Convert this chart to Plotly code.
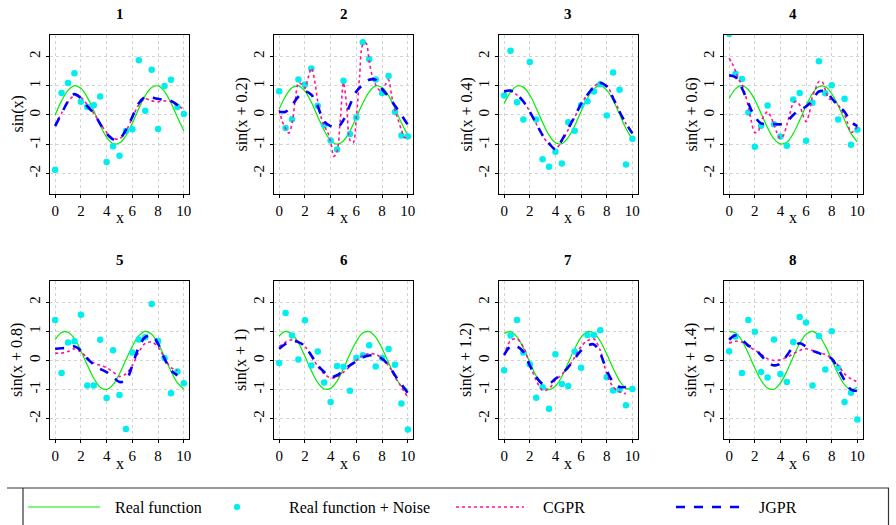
import plotly.graph_objects as go

# ---------------- data ----------------
X = [0, 0.5, 1, 1.5, 2, 2.5, 3, 3.5, 4, 4.5, 5, 5.5, 6, 6.5, 7, 7.5, 8, 8.5, 9, 9.5, 10]
X_FINE = [0, 0.25, 0.5, 0.75, 1, 1.25, 1.5, 1.75, 2, 2.25, 2.5, 2.75, 3, 3.25, 3.5, 3.75,
          4, 4.25, 4.5, 4.75, 5, 5.25, 5.5, 5.75, 6, 6.25, 6.5, 6.75, 7, 7.25, 7.5, 7.75,
          8, 8.25, 8.5, 8.75, 9, 9.25, 9.5, 9.75, 10]

PANEL_TITLES = ["1", "2", "3", "4", "5", "6", "7", "8"]
Y_LABELS = ["sin(x)", "sin(x + 0.2)", "sin(x + 0.4)", "sin(x + 0.6)",
            "sin(x + 0.8)", "sin(x + 1)", "sin(x + 1.2)", "sin(x + 1.4)"]
X_TICKS = [0, 2, 4, 6, 8, 10]
Y_TICKS = [-2, -1, 0, 1, 2]
Y_TICK_TEXT = ["-2", "-1", "0", "1", "2"]
LEGEND_LABELS = ["Real function", "Real function + Noise", "CGPR", "JGPR"]

REAL_1 = [0, 0.48, 0.84, 1.00, 0.91, 0.60, 0.14, -0.35, -0.76, -0.98, -0.96, -0.71, -0.28, 0.22, 0.66, 0.94, 0.99, 0.80, 0.41, -0.08, -0.54]
REAL_2 = [0.20, 0.64, 0.93, 0.99, 0.81, 0.43, -0.06, -0.53, -0.87, -1.00, -0.88, -0.55, -0.08, 0.40, 0.79, 0.99, 0.94, 0.66, 0.22, -0.27, -0.70]
REAL_3 = [0.39, 0.78, 0.99, 0.95, 0.68, 0.24, -0.26, -0.69, -0.95, -0.98, -0.77, -0.37, 0.12, 0.58, 0.90, 1.00, 0.85, 0.50, 0.02, -0.46, -0.83]
REAL_4 = [0.56, 0.89, 1.00, 0.86, 0.52, 0.04, -0.44, -0.82, -0.99, -0.93, -0.63, -0.18, 0.31, 0.73, 0.97, 0.97, 0.73, 0.32, -0.17, -0.63, -0.92]
REAL_5 = [0.72, 0.96, 0.97, 0.75, 0.33, -0.16, -0.61, -0.92, -1.00, -0.83, -0.46, 0.02, 0.49, 0.85, 1.00, 0.90, 0.58, 0.12, -0.37, -0.77, -0.98]
REAL_6 = [0.84, 1.00, 0.91, 0.60, 0.14, -0.35, -0.76, -0.98, -0.96, -0.71, -0.28, 0.22, 0.66, 0.94, 0.99, 0.80, 0.41, -0.08, -0.54, -0.88, -1.00]
REAL_7 = [0.93, 0.99, 0.81, 0.43, -0.06, -0.53, -0.87, -1.00, -0.88, -0.55, -0.08, 0.40, 0.79, 0.99, 0.94, 0.66, 0.22, -0.27, -0.70, -0.96, -0.98]
REAL_8 = [0.99, 0.95, 0.68, 0.24, -0.26, -0.69, -0.95, -0.99, -0.77, -0.37, 0.12, 0.58, 0.90, 1.00, 0.85, 0.50, 0.02, -0.46, -0.83, -1.00, -0.92]

NOISE_1 = [-1.87, 0.75, 1.09, 1.42, 0.45, 0.27, 0.33, 0.63, -1.61, -1.07, -1.39, -0.55, -0.49, 1.87, 0.14, 1.54, -0.48, 0.99, 1.20, 0.27, 0.03]
NOISE_2 = [0.81, -0.45, -0.15, 1.21, 1.04, 1.59, 0.31, -0.34, -0.87, -1.18, 1.17, -0.65, -0.09, 2.48, 1.90, 1.21, 0.75, 1.33, 0.10, -0.70, -0.74]
NOISE_3 = [0.66, 2.19, 0.43, -0.16, 1.81, -0.16, -1.51, -1.77, -1.26, -1.66, -0.25, -0.54, 0.33, 0.47, 0.80, 1.05, -0.02, 1.45, 0.86, -1.69, -0.81]
NOISE_4 = [2.76, 1.41, 1.23, 0.08, -1.09, -0.37, 0.32, -0.32, -0.74, -1.05, 0.53, 0.75, -0.88, 0.42, 1.83, 0.74, 1.01, -0.16, 0.55, -1.02, -0.51]
NOISE_5 = [1.39, -0.43, 0.62, 0.66, 1.57, -0.86, -0.86, 0.71, -1.29, 0.35, -1.19, -2.36, 0.27, 0.72, 0.80, 1.94, 0.67, 0.08, -1.13, -0.38, -0.78]
NOISE_6 = [-0.09, 1.63, 0.86, 0.03, 1.38, -0.17, 0.31, -0.76, -1.43, -0.19, -0.22, -1.04, 0.08, 0.18, 0.52, -0.21, 0.08, 0.39, -0.15, -1.48, -2.37]
NOISE_7 = [-0.34, 0.86, 1.39, 0.27, -0.13, -1.28, -0.92, -1.66, 0.21, -0.81, -0.88, 0.31, -0.25, 0.87, 0.87, 1.04, -0.58, -1.03, -1.01, -1.54, -0.98]
NOISE_8 = [0.32, 0.82, -0.43, 1.39, 0.99, -0.40, -0.59, 0.72, -0.47, -0.74, 0.63, 1.49, 1.30, -0.86, 0.84, -0.31, 1.00, -0.25, -1.43, -1.11, -2.03]

CGPR_1 = [-0.33, 0.06, 0.45, 0.66, 0.60, 0.35, 0.06, -0.28, -0.60, -0.80, -0.82, -0.55, -0.10, 0.35, 0.55, 0.48, 0.45, 0.48, 0.45, 0.32, 0.20]
CGPR_2 = [0.17, -0.23, -0.46, -0.62, -0.29, 0.51, 1.09, 1.05, 0.91, 1.26, 1.60, 1.20, 0.46, -0.06, -0.38, -0.57,
          -0.91, -1.42, -1.25, -0.17, 1.10, 0.29, -0.86, -0.95, -0.06, 1.31, 2.40, 2.45, 1.83, 1.30, 1.03, 0.86,
          0.80, 1.03, 1.20, 0.63, 0.17, -0.17, -0.51, -0.78, -0.72]
CGPR_3 = [0.78, 0.82, 0.68, 0.45, 0.12, -0.30, -0.72, -1.00, -1.15, -0.90, -0.50, -0.08, 0.36, 0.70, 0.97, 1.10, 1.00, 0.60, 0.12, -0.30, -0.60]
CGPR_4 = [1.94, 1.75, 1.49, 1.20, 1.05, 0.70, 0.29, -0.25, -0.60, -0.57, -0.23, 0.00, 0.11, -0.06, -0.34, -0.63,
          -0.80, -0.69, -0.34, 0.06, 0.40, 0.46, 0.34, 0.00, -0.23, 0.06, 0.63, 0.91, 1.14, 1.14, 0.86, 0.57,
          0.51, 0.46, 0.34, 0.17, 0.00, -0.29, -0.60, -0.54, -0.40]
CGPR_5 = [0.25, 0.25, 0.31, 0.40, 0.29, 0.09, -0.09, -0.17, -0.25, -0.40, -0.55, -0.46, -0.17, 0.29, 0.59, 0.63, 0.46, 0.08, -0.25, -0.34, None]
CGPR_6 = [0.48, 0.63, 0.71, 0.66, 0.48, 0.17, -0.21, -0.46, -0.60, -0.57, -0.40, -0.21, 0.00, 0.17, 0.23, 0.21, 0.06, -0.17, -0.57, -0.91, -1.28]
CGPR_7 = [0.17, 0.68, 0.74, 0.46, -0.14, -0.68, -1.03, -0.97, -0.68, -0.48, -0.23, 0.11, 0.48, 0.68, 0.74, 0.34, -0.46, -0.91, -1.08, -1.14, None]
CGPR_8 = [0.59, 0.66, 0.63, 0.48, 0.36, 0.21, 0.06, 0.00, 0.02, 0.11, 0.23, 0.34, 0.40, 0.34, 0.25, 0.21, 0.06, -0.17, -0.46, -0.63, -0.74]

JGPR_1 = [-0.38, 0.05, 0.46, 0.71, 0.57, 0.29, 0.06, -0.31, -0.63, -0.83, -0.82, -0.51, -0.06, 0.40, 0.61, 0.59, 0.55, 0.51, 0.48, 0.34, 0.19]
JGPR_2 = [0.11, 0.11, 0.34, 0.63, 0.80, 0.69, 0.29, -0.23, -0.38, -0.43, -0.17, 0.34, 0.80, 1.03, 1.20, 1.20, 0.88, 0.63, 0.31, 0.00, -0.34]
JGPR_3 = [0.80, 0.83, 0.69, 0.46, 0.11, -0.29, -0.69, -0.97, -1.17, -0.86, -0.46, -0.06, 0.38, 0.69, 0.95, 1.09, 0.97, 0.57, 0.11, -0.29, -0.63]
JGPR_4 = [1.35, 1.29, 0.91, 0.40, -0.06, -0.29, -0.31, -0.31, -0.32, -0.23, 0.00, 0.17, 0.29, 0.51, 0.80, 0.80, 0.57, 0.31, 0.11, -0.23, -0.38]
JGPR_5 = [0.40, 0.42, 0.43, 0.48, 0.34, 0.06, -0.14, -0.29, -0.40, -0.57, -0.74, -0.68, -0.17, 0.46, 0.80, 0.86, 0.57, 0.06, -0.34, -0.51, None]
JGPR_6 = [0.40, 0.57, 0.66, 0.63, 0.48, 0.17, -0.17, -0.40, -0.57, -0.51, -0.34, -0.17, -0.03, 0.11, 0.17, 0.17, 0.06, -0.17, -0.51, -0.82, -1.12]
JGPR_7 = [0.19, 0.48, 0.48, 0.29, -0.17, -0.57, -0.80, -0.80, -0.63, -0.46, -0.23, 0.06, 0.34, 0.51, 0.55, 0.23, -0.34, -0.74, -0.91, -0.91, None]
JGPR_8 = [0.71, 0.86, 0.71, 0.51, 0.40, 0.17, -0.06, -0.17, -0.11, 0.17, 0.46, 0.59, 0.48, 0.34, 0.25, 0.17, 0.06, -0.29, -0.68, -1.00, -1.05]

REALS = [REAL_1, REAL_2, REAL_3, REAL_4, REAL_5, REAL_6, REAL_7, REAL_8]
NOISES = [NOISE_1, NOISE_2, NOISE_3, NOISE_4, NOISE_5, NOISE_6, NOISE_7, NOISE_8]
CGPRS = [CGPR_1, CGPR_2, CGPR_3, CGPR_4, CGPR_5, CGPR_6, CGPR_7, CGPR_8]
JGPRS = [JGPR_1, JGPR_2, JGPR_3, JGPR_4, JGPR_5, JGPR_6, JGPR_7, JGPR_8]

# ---------------- layout helpers ----------------
W, H = 896, 525
FONT = "'Liberation Serif', 'Times New Roman', serif"
GREEN = "#00EE00"
CYAN = "#00EEEE"
PINK = "#FF1493"
BLUE = "#0000FF"

COL_PX = [(50, 189), (274, 413), (499, 637.5), (724, 862.5)]
ROW_PX = [(35, 194), (281, 439)]


def px(x):
    return x / W


def py(y):
    return 1 - y / H


def note(text, x, y, size, angle=0, xanchor="center"):
    return dict(text=text, x=px(x), y=py(y), xref="paper", yref="paper", showarrow=False,
                xanchor=xanchor, yanchor="middle", textangle=angle,
                font=dict(family=FONT, size=size, color="black"))


fig = go.Figure()
annotations = []
shapes = []
layout_axes = {}

for i in range(8):
    r, c = divmod(i, 4)
    xs = "" if i == 0 else str(i + 1)
    xa, ya = "x" + xs, "y" + xs
    x0, x1 = COL_PX[c]
    y0, y1 = ROW_PX[r]

    fig.add_trace(go.Scatter(x=X, y=REALS[i], mode="lines", line=dict(color=GREEN, width=1.2, shape="spline"),
                             xaxis=xa, yaxis=ya, showlegend=False))
    fig.add_trace(go.Scatter(x=X, y=NOISES[i], mode="markers", marker=dict(color=CYAN, size=6.5),
                             xaxis=xa, yaxis=ya, showlegend=False, cliponaxis=True))
    cx = X_FINE if len(CGPRS[i]) == len(X_FINE) else X
    fig.add_trace(go.Scatter(x=cx, y=CGPRS[i], mode="lines",
                             line=dict(color=PINK, width=1.6, dash="dot", shape="spline", smoothing=0.9),
                             xaxis=xa, yaxis=ya, showlegend=False))
    fig.add_trace(go.Scatter(x=X, y=JGPRS[i], mode="lines",
                             line=dict(color=BLUE, width=2.6, dash="dash", shape="spline"),
                             xaxis=xa, yaxis=ya, showlegend=False))

    common = dict(showline=True, mirror=True, linecolor="black", linewidth=1.2,
                  ticks="outside", ticklen=3, tickcolor="black", tickwidth=1,
                  showgrid=True, gridcolor="#D3D3D3", griddash="dot", gridwidth=1,
                  zeroline=False, automargin=False,
                  tickfont=dict(family=FONT, size=15, color="black"))
    layout_axes["xaxis" + xs] = dict(domain=[px(x0), px(x1)], anchor=ya, range=[-0.4, 10.4],
                                     tickvals=X_TICKS, **common)
    layout_axes["yaxis" + xs] = dict(domain=[py(y1), py(y0)], anchor=xa, range=[-2.7, 2.73],
                                     tickvals=Y_TICKS, ticktext=Y_TICK_TEXT, tickangle=-90, **common)

    xc = (x0 + x1) / 2
    annotations.append(note("<b>" + PANEL_TITLES[i] + "</b>", xc, y0 - 21, 15))
    annotations.append(note("x", xc, y1 + 24, 16))
    annotations.append(note(Y_LABELS[i], x0 - 33, (y0 + y1) / 2, 16, angle=-90))

# ---------------- legend (drawn manually) ----------------
LY = 507
shapes.append(dict(type="line", xref="paper", yref="paper", x0=px(7), x1=px(889), y0=py(488), y1=py(488),
                   line=dict(color="#333333", width=1.2)))
shapes.append(dict(type="line", xref="paper", yref="paper", x0=px(23), x1=px(23), y0=py(488), y1=py(530),
                   line=dict(color="#333333", width=1.2)))
shapes.append(dict(type="line", xref="paper", yref="paper", x0=px(888.5), x1=px(888.5), y0=py(488), y1=py(530),
                   line=dict(color="#333333", width=1.2)))
shapes.append(dict(type="line", xref="paper", yref="paper", x0=px(28), x1=px(100), y0=py(LY), y1=py(LY),
                   line=dict(color=GREEN, width=1.2)))
shapes.append(dict(type="circle", xref="paper", yref="paper", x0=px(234), x1=px(240), y0=py(LY - 3), y1=py(LY + 3),
                   fillcolor=CYAN, line=dict(color=CYAN, width=0.5)))
shapes.append(dict(type="line", xref="paper", yref="paper", x0=px(456), x1=px(524), y0=py(LY), y1=py(LY),
                   line=dict(color=PINK, width=1.6, dash="dot")))
shapes.append(dict(type="line", xref="paper", yref="paper", x0=px(676), x1=px(744), y0=py(LY), y1=py(LY),
                   line=dict(color=BLUE, width=2.6, dash="dash")))
for lab, lx in zip(LEGEND_LABELS, [113, 287, 541, 757]):
    annotations.append(note(lab, lx, LY, 16, xanchor="left"))

fig.update_layout(width=W, height=H, margin=dict(l=0, r=0, t=0, b=0, pad=0),
                  paper_bgcolor="white", plot_bgcolor="white",
                  font=dict(family=FONT, color="black"),
                  annotations=annotations, shapes=shapes, showlegend=False, **layout_axes)

fig.write_html("out.html", config={"displayModeBar": False},
               post_script="document.body.style.margin='0';document.body.style.padding='0';")
